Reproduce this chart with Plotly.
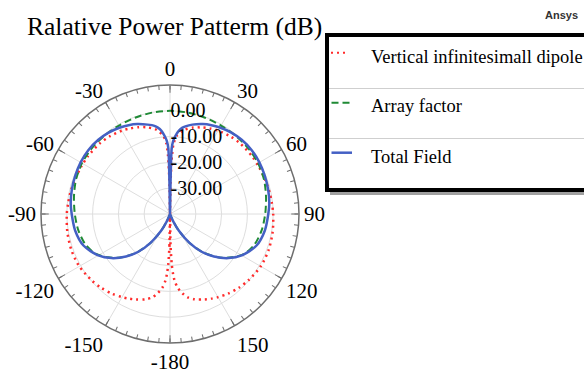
import plotly.graph_objects as go

# ---------------- data ----------------
# Total field (dB)
theta_total = [-180, -170, -160, -156, -152, -146, -140, -134, -127, -120, -110, -100, -90,
               -84, -76, -68, -60, -52, -44, -37, -30, -25, -20, -14, -10, -8, -6, -4, -2.5, -1.5, -1,
               0, 1, 1.5, 2.5, 4, 6, 8, 10, 14, 20, 25, 30, 37, 44, 52, 60, 68, 76, 84,
               90, 100, 110, 120, 127, 134, 140, 146, 152, 156, 160, 170, 180]
r_total = [-40, -40, -39.5, -36.5, -32.5, -26.5, -20.9, -16.3, -11.6, -7.9, -4.3, -2.7, -1.9,
           -1.3, -0.8, -0.4, 0, 0.2, 0, -0.5, -1.3, -2.0, -2.9, -4.3, -5.3, -6.2, -7.5, -9.6, -11.6, -14.5, -27,
           -40, -27, -14.5, -11.6, -9.6, -7.6, -6.3, -5.5, -4.3, -2.9, -2.0, -1.3, -0.5, 0, 0.2, 0, -0.4, -0.8, -1.3,
           -1.9, -2.7, -4.3, -7.9, -11.6, -16.3, -20.9, -26.5, -32.5, -36.5, -39.5, -40, -40]

# Vertical infinitesimal dipole (dB)
theta_dipole = [-180, -179, -178, -177, -176, -174, -171, -168, -164, -158, -154, -150, -144, -137, -130,
                -120, -110, -100, -90, -84, -78, -70, -62, -55, -45, -38, -30, -25, -20, -15, -10, -8,
                -5, -3, -2, -1, 0, 1, 2, 3, 5, 8, 10, 15, 20, 25, 30, 38, 45, 55, 62, 70, 78, 84, 90,
                100, 110, 120, 130, 137, 144, 150, 154, 158, 164, 168, 171, 174, 176, 177, 178, 179, 180]
r_dipole = [-40, -28, -20.5, -16.5, -14, -11.2, -8.8, -7.0, -5.6, -4.3, -3.5, -2.8, -1.8, -0.9, -0.2,
            0.6, 0.7, 0.4, 0, -0.3, -0.5, -0.8, -1.0, -1.1, -1.4, -1.9, -2.7, -3.4, -4.2, -5.2, -6.6, -7.6,
            -9.5, -12.5, -17, -28, -40, -28, -17, -12.5, -9.5, -7.7, -6.8, -5.3, -4.3, -3.4, -2.7, -1.9,
            -1.4, -1.1, -1.0, -0.8, -0.5, -0.3, 0,
            0.4, 0.7, 0.6, -0.2, -0.9, -1.8, -2.8, -3.5, -4.3, -5.6, -7.0, -8.8, -11.2, -14, -16.5, -20.5, -28, -40]

# Array factor (dB)
theta_af = [-180, -170, -160, -156, -152, -146, -140, -134, -130, -125, -118, -110, -100, -90, -80, -70,
            -60, -50, -40, -30, -20, -10, 0, 10, 20, 30, 40, 50, 60, 70, 80, 90, 100, 110, 118, 125,
            130, 134, 140, 146, 152, 156, 160, 170, 180]
r_af = [-40, -40, -39.5, -36.5, -32.6, -26.6, -21, -16.4, -13.6, -10.7, -7.3, -5.2, -3.9, -3.1, -2.2, -1.2,
        -0.6, -0.4, -0.4, -0.4, -0.3, -0.1, 0, -0.1, -0.3, -0.4, -0.4, -0.4, -0.6, -1.2, -2.2, -3.1, -3.9,
        -5.2, -7.3, -10.7, -13.6, -16.4, -21, -26.6, -32.6, -36.5, -39.5, -40, -40]

angle_tickvals = [0, 30, 60, 90, 120, 150, 180, 210, 240, 270, 300, 330]
angle_ticktext = ["0", "30", "60", "90", "120", "150", "-180", "-150", "-120", "-90", "-60", "-30"]
radial_tickvals = [-30, -20, -10, 0]
radial_ticktext = ["-30.00", "-20.00", "-10.00", "0.00"]

series_names = ["Vertical infinitesimall dipole", "Array factor", "Total Field"]

# ---------------- styles ----------------
RED = "#ff2b2b"
GREEN = "#1f8a35"
BLUE = "#4460c4"
SERIF = "Liberation Serif, Times New Roman, serif"
W, H = 584, 374


def px(x):
    return x / W


def py(y):
    return 1 - y / H


fig = go.Figure()
fig.add_trace(go.Scatterpolar(r=r_dipole, theta=theta_dipole, mode="lines", name=series_names[0],
                              line=dict(color=RED, width=2.5, dash="2px,4px", shape="spline", smoothing=0.8),
                              showlegend=False, subplot="polar"))
fig.add_trace(go.Scatterpolar(r=r_af, theta=theta_af, mode="lines", name=series_names[1],
                              line=dict(color=GREEN, width=2, dash="7px,4px", shape="spline", smoothing=0.8),
                              showlegend=False, subplot="polar"))
fig.add_trace(go.Scatterpolar(r=r_total, theta=theta_total, mode="lines", name=series_names[2],
                              line=dict(color=BLUE, width=2.5, shape="spline", smoothing=0.8),
                              showlegend=False, subplot="polar"))
# overlay subplot carrying the fine 5-degree ticks
fig.add_trace(go.Scatterpolar(r=[], theta=[], mode="lines", showlegend=False, subplot="polar2",
                              hoverinfo="skip"))

dom_x = [px(41), px(299)]
dom_y = [py(343), py(85)]

fig.update_layout(
    width=W, height=H,
    margin=dict(l=0, r=0, t=0, b=0, autoexpand=False),
    paper_bgcolor="white",
    showlegend=False,
    polar=dict(
        domain=dict(x=dom_x, y=dom_y),
        bgcolor="white",
        angularaxis=dict(
            rotation=90, direction="clockwise",
            tickmode="array", tickvals=angle_tickvals, ticktext=angle_ticktext,
            showline=True, linecolor="#6e6e6e", linewidth=1.5,
            showgrid=True, gridcolor="#dedede", gridwidth=1,
            ticks="inside", ticklen=7, tickwidth=1, tickcolor="#6e6e6e",
            tickfont=dict(family=SERIF, size=21, color="black"),
        ),
        radialaxis=dict(
            range=[-40, 10], angle=90, tickangle=90,
            tickmode="array", tickvals=radial_tickvals, ticktext=radial_ticktext,
            showline=False, showgrid=True, gridcolor="#dedede", gridwidth=1,
            ticks="", tickfont=dict(family=SERIF, size=20, color="black"),
        ),
    ),
    polar2=dict(
        domain=dict(x=dom_x, y=dom_y),
        bgcolor="rgba(0,0,0,0)",
        angularaxis=dict(
            rotation=90, direction="clockwise", dtick=5, tickmode="linear", tick0=0,
            showline=False, showgrid=False, showticklabels=False,
            ticks="inside", ticklen=4, tickwidth=1, tickcolor="#6e6e6e",
        ),
        radialaxis=dict(range=[-40, 10], visible=False, showgrid=False),
    ),
)

shapes = []
XR = 1.0  # right edge of the picture: the legend box continues past it


def box(x0, y0, x1, y1, color):
    return dict(type="rect", xref="paper", yref="paper", x0=px(x0), x1=px(x1) if x1 is not None else XR,
                y0=py(y1), y1=py(y0), line=dict(width=0), fillcolor=color, layer="below")


# legend box shadow, body and border (filled strips; the right side is cut off)
shapes.append(box(330, 38, None, 195, "#a0a0a0"))
shapes.append(box(327, 35, None, 190, "white"))
shapes.append(box(325, 33, None, 37, "black"))
shapes.append(box(325, 188, None, 192, "black"))
shapes.append(box(325, 33, 329, 192, "black"))
# row separators
for ysep in (88, 138):
    shapes.append(box(329, ysep, None, ysep + 1, "#cfcfcf"))
# legend samples
shapes.append(dict(type="line", xref="paper", yref="paper", x0=px(331), x1=px(348), y0=py(52.7), y1=py(52.7),
                   line=dict(color=RED, width=2, dash="2px,4px"), layer="below"))
shapes.append(dict(type="line", xref="paper", yref="paper", x0=px(331.5), x1=px(352), y0=py(102.7), y1=py(102.7),
                   line=dict(color=GREEN, width=2, dash="7px,4px"), layer="below"))
shapes.append(dict(type="line", xref="paper", yref="paper", x0=px(331.5), x1=px(352), y0=py(152.7), y1=py(152.7),
                   line=dict(color=BLUE, width=2.5), layer="below"))

annotations = []
for name, yc in zip(series_names, (56.5, 106.5, 156.5)):
    annotations.append(dict(text=name, xref="paper", yref="paper", x=px(369), y=py(yc),
                            xanchor="left", yanchor="middle", showarrow=False,
                            font=dict(family=SERIF, size=18.5, color="black")))
annotations.append(dict(text="Ralative Power Patterm (dB)", xref="paper", yref="paper", x=px(25), y=py(26),
                        xanchor="left", yanchor="middle", showarrow=False,
                        font=dict(family=SERIF, size=25.5, color="black")))
annotations.append(dict(text="<b>Ansys</b>", xref="paper", yref="paper", x=px(561), y=py(15),
                        xanchor="center", yanchor="middle", showarrow=False,
                        font=dict(family="Liberation Sans, Arial, sans-serif", size=11, color="#333333")))

fig.update_layout(shapes=shapes, annotations=annotations)
fig.write_html("out.html")
